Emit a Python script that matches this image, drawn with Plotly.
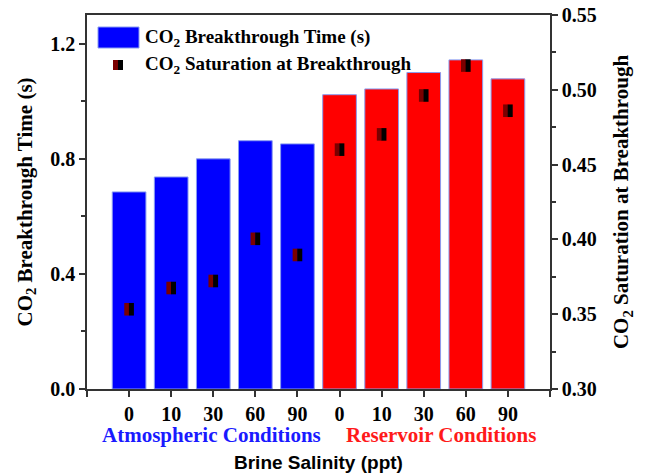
import plotly.graph_objects as go

# ---- data ----
categories = ["0", "10", "30", "60", "90", "0", "10", "30", "60", "90"]
breakthrough_time = [0.685, 0.737, 0.800, 0.863, 0.852, 1.023, 1.043, 1.100, 1.144, 1.078]
saturation = [0.3533, 0.3675, 0.3722, 0.4004, 0.3896, 0.4600, 0.4702, 0.4962, 0.5162, 0.4860]
bar_colors = ["#0000FF"] * 5 + ["#FF0000"] * 5
group_labels = ["Atmospheric Conditions", "Reservoir Conditions"]
x_title = "Brine Salinity (ppt)"

x = list(range(len(categories)))
SERIF = "Liberation Serif"
PH = 374.0  # plot height in px (for paper offsets)

fig = go.Figure()
fig.add_trace(go.Bar(
    x=x, y=breakthrough_time, width=0.8,
    marker=dict(color=bar_colors, line=dict(color="#8a9cf0", width=1)),
    showlegend=False, yaxis="y",
))
# saturation markers: dark red left half, black right half
fig.add_trace(go.Scatter(
    x=[v - 0.055 for v in x], y=saturation, mode="markers", yaxis="y2",
    marker=dict(symbol="line-ns", size=9, line=dict(color="#7a0000", width=5)),
    showlegend=False,
))
fig.add_trace(go.Scatter(
    x=[v + 0.055 for v in x], y=saturation, mode="markers", yaxis="y2",
    marker=dict(symbol="line-ns", size=9, line=dict(color="black", width=5)),
    showlegend=False,
))

axis_font = dict(family=SERIF, size=20, color="black")

fig.update_layout(
    width=646, height=474,
    margin=dict(l=87, r=96, t=15, b=85, autoexpand=False),
    paper_bgcolor="white", plot_bgcolor="white",
    xaxis=dict(
        range=[-1, 10], automargin=False,
        tickmode="array",
        tickvals=[-1] + x + [10],
        ticktext=[""] + [f"<b>{c}</b>" for c in categories] + [""],
        ticks="outside", ticklen=6, tickwidth=1.5, tickcolor="#333",
        showline=True, linecolor="#333", linewidth=1.5, mirror=True,
        showgrid=False, zeroline=False,
        tickfont=axis_font,
    ),
    yaxis=dict(
        range=[0, 1.3], automargin=False,
        tickmode="array", tickvals=[0, 0.4, 0.8, 1.2],
        ticktext=["<b>0.0</b>", "<b>0.4</b>", "<b>0.8</b>", "<b>1.2</b>"],
        ticks="outside", ticklen=6, tickwidth=1.5, tickcolor="#333",
        minor=dict(tickvals=[0.2, 0.6, 1.0], ticks="outside", ticklen=4, tickcolor="#333", tickwidth=1.5),
        showline=True, linecolor="#333", linewidth=1.5,
        showgrid=False, zeroline=False,
        tickfont=axis_font,
        title=dict(text="<b>CO<sub>2</sub> Breakthrough Time (s)</b>",
                   font=dict(family=SERIF, size=21, color="black"), standoff=12),
    ),
    yaxis2=dict(
        range=[0.30, 0.55], overlaying="y", side="right", automargin=False,
        tickmode="array", tickvals=[0.30, 0.35, 0.40, 0.45, 0.50, 0.55],
        ticktext=["<b>0.30</b>", "<b>0.35</b>", "<b>0.40</b>", "<b>0.45</b>", "<b>0.50</b>", "<b>0.55</b>"],
        ticks="outside", ticklen=6, tickwidth=1.5, tickcolor="#333",
        minor=dict(tickvals=[0.325, 0.375, 0.425, 0.475, 0.525], ticks="outside", ticklen=4, tickcolor="#333", tickwidth=1.5),
        showline=True, linecolor="#333", linewidth=1.5,
        showgrid=False, zeroline=False,
        tickfont=axis_font,
        title=dict(text="<b>CO<sub>2</sub> Saturation at Breakthrough</b>",
                   font=dict(family=SERIF, size=21, color="black"), standoff=18),
    ),
)

# group labels under the category ticks
fig.add_annotation(x=1.95, y=-(435 - 389) / PH, xref="x", yref="paper", yanchor="middle",
                   text=f"<b>{group_labels[0]}</b>",
                   showarrow=False, font=dict(family=SERIF, size=21, color="#1a1aff"))
fig.add_annotation(x=7.4, y=-(435 - 389) / PH, xref="x", yref="paper", yanchor="middle",
                   text=f"<b>{group_labels[1]}</b>",
                   showarrow=False, font=dict(family=SERIF, size=21, color="#ff1a1a"))
# x-axis title
fig.add_annotation(x=0.5, y=-(462 - 389) / PH, xref="paper", yref="paper", yanchor="middle",
                   text=f"<b>{x_title}</b>", showarrow=False,
                   font=dict(family="Liberation Sans", size=19, color="black"))

# custom legend
fig.add_shape(type="rect", xref="paper", yref="paper",
              x0=(98 - 87) / 463, x1=(139 - 87) / 463, y0=(389 - 48) / PH, y1=(389 - 27) / PH,
              fillcolor="#0000FF", line=dict(width=1, color="#8a9cf0"))
fig.add_shape(type="rect", xref="paper", yref="paper",
              x0=(113 - 87) / 463, x1=(118 - 87) / 463, y0=(389 - 70) / PH, y1=(389 - 60) / PH,
              fillcolor="#7a0000", line=dict(width=0))
fig.add_shape(type="rect", xref="paper", yref="paper",
              x0=(118 - 87) / 463, x1=(123 - 87) / 463, y0=(389 - 70) / PH, y1=(389 - 60) / PH,
              fillcolor="black", line=dict(width=0))
fig.add_annotation(x=(143 - 87) / 463, y=(389 - 38) / PH, xref="paper", yref="paper",
                   xanchor="left", yanchor="middle", showarrow=False,
                   text="<b>CO<sub>2</sub> Breakthrough Time (s)</b>",
                   font=dict(family=SERIF, size=19, color="black"))
fig.add_annotation(x=(143 - 87) / 463, y=(389 - 65) / PH, xref="paper", yref="paper",
                   xanchor="left", yanchor="middle", showarrow=False,
                   text="<b>CO<sub>2</sub> Saturation at Breakthrough</b>",
                   font=dict(family=SERIF, size=19, color="black"))

fig.write_html("out.html")
